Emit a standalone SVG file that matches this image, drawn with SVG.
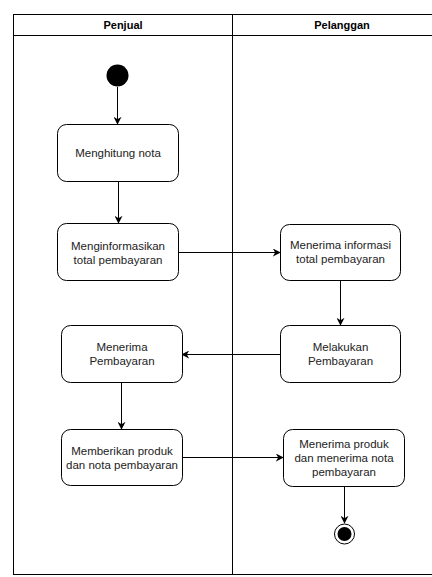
<svg xmlns="http://www.w3.org/2000/svg" width="432" height="577" viewBox="0 0 432 577">
<style>
.lane{fill:none;stroke:#000;stroke-width:1}
.box{fill:#fff;stroke:#000;stroke-width:1}
.t{font-family:"Liberation Sans",Arial,sans-serif;font-size:11.5px;fill:#222;text-anchor:middle}
.h{font-family:"Liberation Sans",Arial,sans-serif;font-size:11px;font-weight:bold;fill:#000;text-anchor:middle}
.e{fill:none;stroke:#000;stroke-width:1}
</style>
<defs>
<marker id="a" viewBox="0 0 10 10" refX="9" refY="5" markerWidth="8" markerHeight="8" markerUnits="userSpaceOnUse" orient="auto">
<path d="M0,0 L10,5 L0,10 L3,5 Z" fill="#000"/>
</marker>
</defs>
<g id="lanes">
<rect class="lane" x="13.5" y="14.5" width="440" height="560"/>
<line class="lane" x1="13.5" y1="35.5" x2="453" y2="35.5"/>
<line class="lane" x1="232.5" y1="14.5" x2="232.5" y2="574.5"/>
<text class="h" x="123" y="29">Penjual</text>
<text class="h" x="342" y="29">Pelanggan</text>
</g>
<g id="connectors">
<line class="e" x1="117.5" y1="87" x2="117.5" y2="124" marker-end="url(#a)"/>
<line class="e" x1="118.5" y1="182" x2="118.5" y2="223" marker-end="url(#a)"/>
<line class="e" x1="178" y1="252.5" x2="280" y2="252.5" marker-end="url(#a)"/>
<line class="e" x1="340.5" y1="281" x2="340.5" y2="325" marker-end="url(#a)"/>
<line class="e" x1="280" y1="354.5" x2="182" y2="354.5" marker-end="url(#a)"/>
<line class="e" x1="121.5" y1="382" x2="121.5" y2="429" marker-end="url(#a)"/>
<line class="e" x1="182" y1="457.5" x2="283" y2="457.5" marker-end="url(#a)"/>
<line class="e" x1="344.5" y1="486" x2="344.5" y2="523" marker-end="url(#a)"/>
</g>
<g id="start"><circle cx="117.5" cy="75.5" r="11" fill="#000"/></g>
<g id="n1"><rect class="box" x="57.5" y="124.5" width="121" height="57" rx="9"/><text class="t" x="118" y="157">Menghitung nota</text></g>
<g id="n2"><rect class="box" x="57.5" y="223.5" width="121" height="57" rx="9"/><text class="t" x="118" y="250">Menginformasikan</text><text class="t" x="118" y="264">total pembayaran</text></g>
<g id="n3"><rect class="box" x="280.5" y="224.5" width="120" height="56" rx="9"/><text class="t" x="340.5" y="249">Menerima informasi</text><text class="t" x="340.5" y="263">total pembayaran</text></g>
<g id="n4"><rect class="box" x="280.5" y="325.5" width="120" height="57" rx="9"/><text class="t" x="340.5" y="351">Melakukan</text><text class="t" x="340.5" y="365">Pembayaran</text></g>
<g id="n5"><rect class="box" x="61.5" y="325.5" width="121" height="57" rx="9"/><text class="t" x="122" y="351">Menerima</text><text class="t" x="122" y="365">Pembayaran</text></g>
<g id="n6"><rect class="box" x="61.5" y="429.5" width="121" height="56" rx="9"/><text class="t" x="122" y="455">Memberikan produk</text><text class="t" x="122" y="469">dan nota pembayaran</text></g>
<g id="n7"><rect class="box" x="283.5" y="429.5" width="121" height="57" rx="9"/><text class="t" x="344" y="448">Menerima produk</text><text class="t" x="344" y="462">dan menerima nota</text><text class="t" x="344" y="476">pembayaran</text></g>
<g id="end"><circle cx="344.5" cy="534" r="10" fill="#fff" stroke="#000" stroke-width="1"/><circle cx="344.5" cy="534" r="7" fill="#000"/></g>
</svg>
